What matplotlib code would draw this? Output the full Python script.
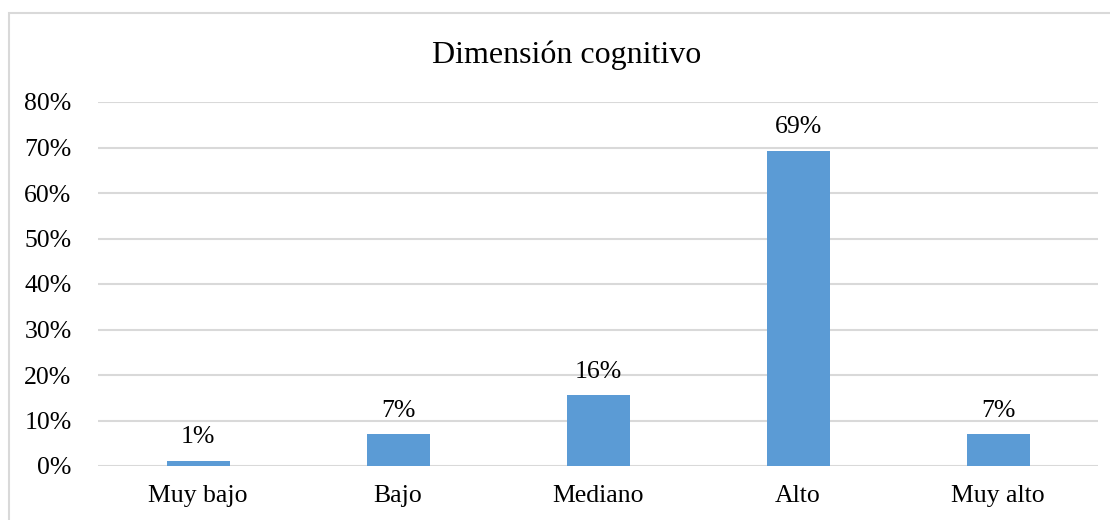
import numpy as np
import matplotlib.pyplot as plt
from matplotlib.patches import Rectangle
from matplotlib.ticker import FuncFormatter

plt.rcParams['font.family'] = ['Liberation Serif', 'DejaVu Serif']

categories = ['Muy bajo', 'Bajo', 'Mediano', 'Alto', 'Muy alto']
values = [1.1, 7.0, 15.6, 69.3, 7.0]
labels = ['1%', '7%', '16%', '69%', '7%']
yticks = [0, 10, 20, 30, 40, 50, 60, 70, 80]

fig = plt.figure(figsize=(11.1, 5.2), dpi=100)
fig.patches.append(Rectangle((9 / 1110, -0.1), 1.2, 1 - 13 / 520 + 0.1,
                             transform=fig.transFigure, fill=False,
                             edgecolor='#d9d9d9', lw=1.5))
ax = fig.add_axes([98 / 1110, 1 - 466 / 520, 1000 / 1110, 364 / 520])

x = np.arange(len(categories))
ax.bar(x, values, 0.315, color='#5b9bd5', zorder=3)
for xi, v, lab in zip(x, values, labels):
    ax.annotate(lab, (xi, v), xytext=(0, 9), textcoords='offset points',
                ha='center', va='bottom', fontsize=18.5)

ax.set_xlim(-0.5, len(categories) - 0.5)
ax.set_ylim(0, 80)
ax.set_yticks(yticks)
ax.yaxis.set_major_formatter(FuncFormatter(lambda v, p: f"{v:.0f}%"))
ax.set_xticks(x)
ax.set_xticklabels(categories)
ax.tick_params(axis='both', length=0, labelsize=18.5)
ax.tick_params(axis='y', pad=19)
ax.tick_params(axis='x', pad=14)
ax.grid(axis='y', color='#d9d9d9', lw=1.5, zorder=0)
for s in ax.spines.values():
    s.set_visible(False)

fig.text(567 / 1110, 1 - 55 / 520, 'Dimensión cognitivo', ha='center', va='center', fontsize=23)

plt.savefig('out.png', dpi=100)
